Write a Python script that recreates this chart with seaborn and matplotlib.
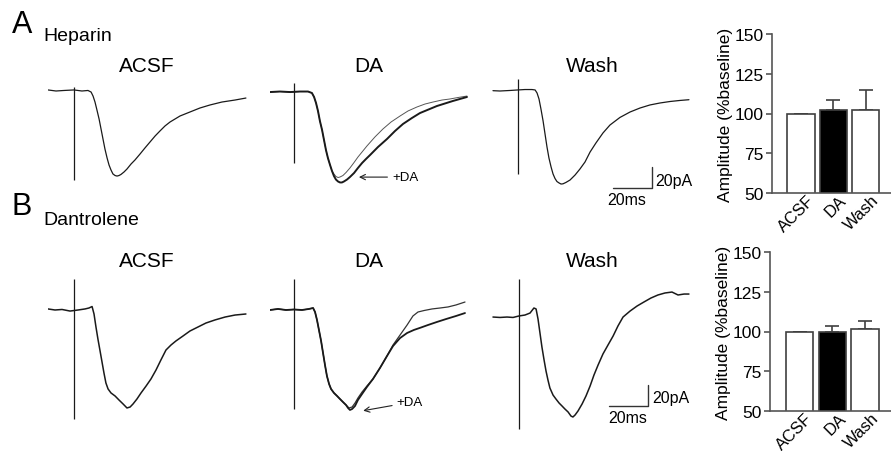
import numpy as np
import pandas as pd
import matplotlib
matplotlib.use("Agg")
import matplotlib.pyplot as plt
import matplotlib.transforms as mtransforms
import seaborn as sns

# traces: time in ms, current in pA
# A - Heparin
hep_acsf_t = [0, 4.1, 8.2, 13.3, 17.4, 20.5, 22.1, 23.1, 24.1, 25.1, 26.2, 27.2, 28.2, 29.2, 30.3,
              31.3, 32.3, 33.3, 34.4, 35.4, 36.4, 37.4, 39, 40.5, 42.6, 44.6, 47.2, 49.7, 52.3, 54.9,
              57.4, 60, 62.6, 67.7, 72.8, 77.9, 83.1, 89.2, 95.9, 101.5]
hep_acsf_i = [1, 0, 0.5, 1, 0, 0.5, -1, -4.8, -10.5, -18.1, -26.7, -36.2, -45.7, -55.2, -63.8,
              -70.5, -75.2, -79, -80.5, -81, -80.5, -79.5, -77.1, -74.3, -69.5, -65.7, -60, -54.3, -48.6, -42.9,
              -38.1, -33.3, -29.5, -23.8, -20, -16.2, -13.3, -10.5, -8.6, -6.7]
# with DA (the trace the arrow points to)
hep_da_t = [0, 5.1, 10.3, 15.4, 19.5, 21.5, 22.6, 23.6, 24.6, 25.6, 26.7, 27.7, 28.7, 29.7, 30.8,
            31.8, 32.8, 33.8, 34.9, 35.9, 36.9, 37.9, 39.5, 41, 43.1, 45.1, 47.2, 49.2, 51.3, 55.4,
            60, 64.1, 68.2, 72.8, 76.9, 85.6, 93.8, 101]
hep_da_i = [-1, -0.5, -1, -0.5, -0.5, -1.9, -5.7, -11.4, -19, -28.6, -37.1, -46.7, -56.2, -63.8, -70.5,
            -76.2, -81, -84.3, -86.2, -87.1, -87.1, -86.2, -84.3, -81.9, -78.1, -73.3, -68.6, -64.8, -61, -53.3,
            -45.7, -38.1, -31.4, -25.7, -21, -14.3, -9.5, -5.7]
# control overlay in the DA panel
hep_ctl_t = [0, 5.1, 10.3, 15.4, 19.5, 21.5, 22.6, 23.6, 24.6, 25.6, 26.7, 27.7, 28.7, 29.7, 30.8, 31.8,
             32.8, 33.8, 34.9, 35.9, 37.4, 39, 41, 43.1, 45.1, 47.2, 49.7, 53.8, 57.9, 62.1, 66.7,
             70.8, 75.4, 79.5, 83.6, 88.2, 92.3, 96.4, 101]
hep_ctl_i = [-1, -0.5, -1, -0.5, -0.5, -1.9, -5.7, -11.4, -19, -28.6, -37.1, -46.7, -56.2, -63.8, -70.5, -76.2,
             -79, -81.4, -82.4, -81.9, -80.5, -77.6, -73.3, -68.1, -62.9, -58.1, -52.4, -43.8, -36.2, -29.5, -23.8,
             -19, -15.2, -12.4, -10.5, -8.6, -7.6, -6.2, -4.8]
hep_wash_t = [0.5, 4.1, 9.2, 13.3, 16.9, 20.5, 22.1, 23.1, 24.1, 25.1, 26.2, 27.2, 28.2, 29.2, 30.3,
              31.3, 32.3, 33.3, 34.4, 35.4, 36.4, 37.9, 40, 42.6, 45.1, 47.7, 50.3, 53.3, 56.9, 60.5,
              65.6, 70.8, 75.9, 81, 86.2, 91.3, 96.4, 101]
hep_wash_i = [0.3, 0, 0.5, 1, 1.4, 1.4, 1, -1.9, -7.6, -17.1, -28.6, -41, -53.3, -63.8, -72.4,
              -79, -83.3, -86.2, -87.6, -88.6, -88.4, -87.1, -84.8, -80, -74.3, -67.6, -58.1, -49.5, -40, -32.4,
              -25.2, -20, -16.2, -13.3, -11.4, -10, -9, -8.3]
# stimulus artifacts: time, top, bottom
hep_art_t = [13.3, 12.3, 13.3]
hep_art_top = [3.6, 7.6, 11.4]
hep_art_bot = [-85, -69, -79]

# B - Dantrolene
dan_acsf_t = [0, 3.6, 7.2, 11.3, 15.4, 19, 21, 22.6, 23.6, 24.6, 25.6, 26.7, 27.7, 28.7, 29.7,
              30.8, 32.3, 34.4, 36.4, 38.5, 40.5, 42.1, 43.6, 45.6, 47.7, 50.3, 52.8, 55.4, 57.9, 60.5,
              63.1, 65.6, 69.2, 72.8, 76.9, 81, 85.6, 90.8, 95.9, 101.5]
dan_acsf_i = [1, 0, 0.5, -1, 0, 1, 1.9, 3.3, -3.8, -16.2, -27.6, -39, -49.5, -60, -69.5,
              -75.2, -79, -81.9, -85.7, -89.5, -93.3, -92.4, -89.5, -84.8, -79, -72.4, -65.7, -57.1, -47.6, -38.1,
              -33.3, -29.5, -24.8, -20, -16.2, -12.4, -9.5, -6.7, -4.8, -3.8]
dan_da_t = [0, 4.1, 8.2, 12.3, 16.4, 20, 22.1, 23.1, 24.1, 25.1, 26.2, 27.2, 28.2, 29.2, 30.3,
            31.3, 32.8, 34.4, 35.9, 37.4, 39, 40, 41, 42.1, 43.6, 45.1, 47.2, 49.7, 52.8, 56.4,
            60, 63.1, 66.7, 70.3, 73.8, 77.4, 81, 85.6, 90.3, 95.4, 100]
dan_da_i = [0, 1, 0, 0.5, 0, 1, 1.9, -1.9, -9.5, -19, -29.5, -41, -52.4, -62.9, -70.5,
            -75.2, -79, -81.9, -84.8, -87.6, -90.5, -93.3, -95.2, -94.3, -91.4, -85.7, -80, -73.3, -65.7, -55.2,
            -43.8, -34.3, -26.7, -21.9, -19, -16.7, -14.3, -11.4, -8.6, -5.7, -2.9]
dan_ctl_t = [0, 4.1, 8.2, 12.3, 16.4, 20, 22.1, 23.1, 24.1, 25.1, 26.2, 27.2, 28.2, 29.2, 30.3,
             31.3, 32.8, 34.4, 35.9, 37.4, 39, 40.5, 42.1, 43.6, 45.1, 47.2, 49.7, 52.8, 56.4, 60,
             63.1, 66.7, 70.3, 73.3, 75.9, 79, 83.1, 87.2, 91.3, 95.4, 100]
dan_ctl_i = [0, 1, 0, 0.5, 0, 1, 1.9, -1.9, -9.5, -19, -29.5, -41, -52.4, -62.9, -70.5,
             -75.2, -79, -81.9, -84.8, -87.6, -90.5, -93.3, -92.4, -88.6, -83.8, -78.1, -72.4, -65.7, -55.2, -43.8,
             -33.3, -23.8, -14.3, -5.7, -1.9, -0.5, 1, 1.9, 2.9, 4.8, 7.6]
dan_wash_t = [0.5, 4.1, 7.7, 10.8, 13.8, 16.9, 19.5, 21.5, 22.6, 23.6, 24.6, 25.6, 26.7, 27.7, 28.7,
              29.7, 31.3, 32.8, 34.4, 35.9, 37.4, 39, 40.5, 41.5, 42.6, 44.1, 46.2, 48.2, 50.3, 52.3,
              54.4, 56.9, 59.5, 62.1, 64.6, 67.2, 70.8, 74.4, 77.9, 81.5, 85.1, 88.7, 92.3, 95.4, 98.5, 101]
dan_wash_i = [-6.7, -7.1, -6.7, -7.1, -5.7, -4.8, -2.9, 1.9, 1, -8.6, -21.9, -35.2, -47.6, -58.1, -66.7,
              -74.3, -81, -84.8, -88.6, -91.4, -94.3, -97.1, -101, -101.9, -100, -96.2, -89.5, -81.9, -72.4, -61.9,
              -52.4, -41.9, -33.3, -24.8, -15.2, -6.7, -1, 3.8, 7.6, 11.4, 14.3, 16.2, 17.1, 14.3, 15.2, 15.2]
dan_art_t = [13.2, 12.5, 13.8]
dan_art_top = [29.5, 29.5, 29.5]
dan_art_bot = [-104, -94, -113]

# summary bars (% of baseline)
conditions = ["ACSF", "DA", "Wash"]
hep_amp = [100, 102, 102]
hep_err = [0, 6.5, 13]
dan_amp = [100, 100, 101.5]
dan_err = [0, 3.5, 5]
bar_colors = ["white", "black", "white"]

scale_ms = 20
scale_pA = 20

sns.set_theme(style="white")
plt.rcParams["font.family"] = ["Liberation Sans", "DejaVu Sans"]
plt.rcParams["text.color"] = "black"
plt.rcParams["axes.labelcolor"] = "black"
plt.rcParams["xtick.color"] = "black"
plt.rcParams["ytick.color"] = "black"

W, H = 891, 452
fig = plt.figure(figsize=(W / 100, H / 100), dpi=100)
PX_MS = 1.95
PX_PA = 1.05
TRACE_C = "#1a1a1a"


def trace_axes(left_px, top_px, bottom_px, base_px, width_px=215):
    ax = fig.add_axes([left_px / W, 1 - bottom_px / H, width_px / W, (bottom_px - top_px) / H])
    ax.set_xlim(0, width_px / PX_MS)
    ax.set_ylim(-(bottom_px - base_px) / PX_PA, (base_px - top_px) / PX_PA)
    ax.axis("off")
    return ax


def draw(ax, t, i, lw=0.9, color=TRACE_C):
    sns.lineplot(x=t, y=i, ax=ax, sort=False, estimator=None, color=color, lw=lw)


def ftext(x_px, y_px, s, size, **kw):
    fig.text(x_px / W, 1 - y_px / H, s, fontsize=size, va="baseline", **kw)


def bar_panel(left_px, top_px, bottom_px, vals, errs):
    ax = fig.add_axes([left_px / W, 1 - bottom_px / H, (W - left_px) / W, (bottom_px - top_px) / H])
    df = pd.DataFrame({"cond": conditions, "amp": vals})
    sns.barplot(data=df, x="cond", y="amp", hue="cond", palette=bar_colors, legend=False,
                edgecolor="#404040", linewidth=1.2, width=0.84, ax=ax, zorder=2)
    ax.errorbar(range(3), vals, yerr=[np.zeros(3), errs], fmt="none", ecolor="#404040",
                elinewidth=1.2, capsize=5, capthick=1.2, zorder=1)
    ax.set_ylim(50, 150)
    ax.set_xlim(-0.9, 2.79)
    ax.set_yticks([50, 75, 100, 125, 150])
    ax.set_xlabel("")
    ax.set_ylabel("Amplitude (%baseline)", fontsize=12.5, labelpad=1)
    for s in ["top", "right"]:
        ax.spines[s].set_visible(False)
    for s in ["left", "bottom"]:
        ax.spines[s].set_color("#555555")
        ax.spines[s].set_linewidth(1.2)
    ax.tick_params(axis="y", left=True, direction="out", length=4, width=1.2,
                   color="#555555", labelsize=12.5, pad=2)
    ax.tick_params(axis="x", bottom=False, length=0, labelsize=12, pad=0)
    shift = mtransforms.ScaledTranslation(0.11, -0.045, fig.dpi_scale_trans)
    for lab in ax.get_xticklabels():
        lab.set_rotation(45)
        lab.set_ha("right")
        lab.set_va("center")
        lab.set_rotation_mode("anchor")
        lab.set_transform(lab.get_transform() + shift)
    return ax


# ---------- row A ----------
ftext(12, 33, "A", 22)
ftext(43, 41, "Heparin", 14)
for cx, name in zip([147, 369, 592], conditions):
    ftext(cx, 72, name, 15, ha="center")

a1 = trace_axes(48, 70, 200, 92)
draw(a1, hep_acsf_t, hep_acsf_i)
a2 = trace_axes(270, 70, 200, 92)
draw(a2, hep_ctl_t, hep_ctl_i, lw=0.7, color="#555555")
draw(a2, hep_da_t, hep_da_i, lw=1.4)
a3 = trace_axes(492, 70, 200, 92)
draw(a3, hep_wash_t, hep_wash_i)
for ax, t, top, bot in zip([a1, a2, a3], hep_art_t, hep_art_top, hep_art_bot):
    ax.vlines(t, bot, top, color=TRACE_C, lw=0.9)
a2.annotate("+DA", xy=(45.6, -82), xytext=(62.6, -82), fontsize=9.5, va="center",
            arrowprops=dict(arrowstyle="->", color="#222222", lw=0.8, shrinkA=1, shrinkB=0))

t0, y0 = 62.05, -92.4
a3.plot([t0, t0 + scale_ms, t0 + scale_ms], [y0, y0, y0 + scale_pA], color="#333333", lw=1.0, clip_on=False)
a3.text(83.6, -84.8, f"{scale_pA}pA", fontsize=11.5, va="center", ha="left")
a3.text(69.2, -96, f"{scale_ms}ms", fontsize=11.5, va="top", ha="center")

bar_panel(772, 35, 194, hep_amp, hep_err)

# ---------- row B ----------
ftext(12, 215, "B", 22)
ftext(43, 225, "Dantrolene", 14)
for cx, name in zip([147, 369, 592], conditions):
    ftext(cx, 267, name, 15, ha="center")

b1 = trace_axes(48, 270, 440, 311)
draw(b1, dan_acsf_t, dan_acsf_i, lw=1.1)
b2 = trace_axes(270, 270, 440, 311)
draw(b2, dan_ctl_t, dan_ctl_i, lw=0.9, color="#333333")
draw(b2, dan_da_t, dan_da_i, lw=1.3)
b3 = trace_axes(492, 270, 440, 311)
draw(b3, dan_wash_t, dan_wash_i, lw=1.1)
for ax, t, top, bot in zip([b1, b2, b3], dan_art_t, dan_art_top, dan_art_bot):
    ax.vlines(t, bot, top, color=TRACE_C, lw=0.9)
b2.annotate("+DA", xy=(47.8, -95.9), xytext=(65, -88), fontsize=9.5, va="center",
            arrowprops=dict(arrowstyle="->", color="#222222", lw=0.8, shrinkA=1, shrinkB=0))

t0, y0 = 60.0, -91.4
b3.plot([t0, t0 + scale_ms, t0 + scale_ms], [y0, y0, y0 + scale_pA], color="#333333", lw=1.0, clip_on=False)
b3.text(82, -82.9, f"{scale_pA}pA", fontsize=11.5, va="center", ha="left")
b3.text(69.7, -95.5, f"{scale_ms}ms", fontsize=11.5, va="top", ha="center")

bar_panel(770, 253, 412, dan_amp, dan_err)

fig.savefig("out.png", dpi=100)
